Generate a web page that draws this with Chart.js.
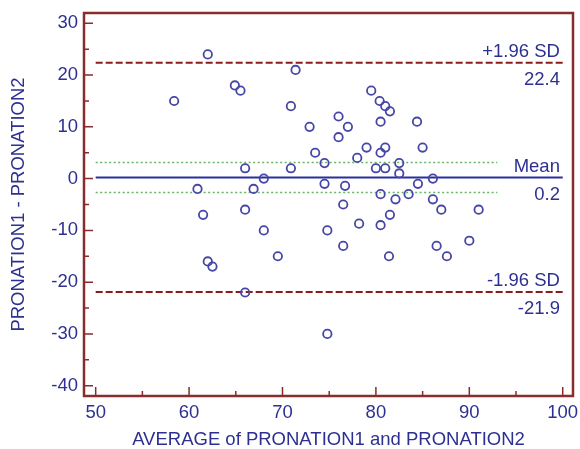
<!DOCTYPE html>
<html>
<head>
<meta charset="utf-8">
<script src="https://cdn.jsdelivr.net/npm/chart.js@4/dist/chart.umd.min.js"></script>
<style>
html, body { margin: 0; padding: 0; background: #fff; }
</style>
</head>
<body>
<canvas id="myChart" width="580" height="449"></canvas>
<script>
// Bland-Altman data
const averages = [58.4, 60.9, 61.5, 62, 62, 62.5, 64.9, 65.5, 66, 66, 66, 66.9, 68, 68, 69.5,
	70.9, 70.9, 71.4, 72.9, 73.5, 74.5, 74.5, 74.8, 74.8, 76, 76, 76.5, 76.5, 76.7, 77,
	78, 78.2, 79, 79.5, 80, 80.4, 80.5, 80.5, 80.5, 80.5, 81, 81, 81, 81.5, 81.5,
	81.4, 82.1, 82.5, 82.5, 83.5, 84.4, 84.5, 85, 86.1, 86.1, 86.5, 87, 87.6, 90, 91];
const differences = [15, -2, -7, 24, -16, -17, 18, 17, 2, -6, -22, -2, 0, -10, -15,
	14, 2, 21, 10, 5, 3, -1, -10, -30, 12, 8, -5, -13, -1.4, 10,
	4, -8.7, 6, 17, 2, 15, 11, 5, -3, -9, 14, 6, 2, 13, -7,
	-15, -4, 3, 1, -3, 11, -1, 6, 0, -4, -13, -6, -15, -12, -6];

const refNames = ['+1.96 SD', 'Mean', '-1.96 SD'];
const refValues = [22.4, 0.2, -21.9];
const ciValues = [3.1, -2.7];
const lineStart = 50, lineEnd = 100, ciEnd = 93;

const xTicks = [50, 60, 70, 80, 90, 100];
const xMinor = [55, 65, 75, 85, 95];
const yTicks = [-40, -30, -20, -10, 0, 10, 20, 30];
const yMinor = [-35, -25, -15, -5, 5, 15, 25];

const textColor = '#2d3090';
const frameColor = '#8a2c2c';
const fontFam = 'Arial, "Liberation Sans", sans-serif';
const fontSize = 18.5;

let pts = [];
for (let i = 0; i < averages.length; i++) {
	pts.push({x: averages[i], y: differences[i]});
}

function hline(v, x2) {
	return [{x: lineStart, y: v}, {x: x2, y: v}];
}

const frameAndTicks = {
	id: 'frameAndTicks',
	afterDatasetsDraw(chart) {
		const ctx = chart.ctx;
		const a = chart.chartArea;
		const x = chart.scales.x, y = chart.scales.y;
		ctx.save();
		ctx.strokeStyle = frameColor;
		ctx.lineWidth = 1.5;
		ctx.beginPath();
		xTicks.forEach(v => { let p = x.getPixelForValue(v); ctx.moveTo(p, a.bottom); ctx.lineTo(p, a.bottom - 9); });
		xMinor.forEach(v => { let p = x.getPixelForValue(v); ctx.moveTo(p, a.bottom); ctx.lineTo(p, a.bottom - 5); });
		yTicks.forEach(v => { let p = y.getPixelForValue(v); ctx.moveTo(a.left, p); ctx.lineTo(a.left + 9, p); });
		yMinor.forEach(v => { let p = y.getPixelForValue(v); ctx.moveTo(a.left, p); ctx.lineTo(a.left + 5, p); });
		ctx.stroke();
		ctx.lineWidth = 2.5;
		ctx.strokeRect(a.left, a.top, a.right - a.left, a.bottom - a.top);

		// labels of the reference lines
		ctx.fillStyle = textColor;
		ctx.font = fontSize + 'px ' + fontFam;
		ctx.textAlign = 'right';
		ctx.textBaseline = 'alphabetic';
		let lx = x.getPixelForValue(99.7);
		for (let i = 0; i < refValues.length; i++) {
			let py = y.getPixelForValue(refValues[i]);
			ctx.fillText(refNames[i], lx, py - 6);
			ctx.fillText(String(refValues[i]), lx, py + 22);
		}
		ctx.restore();
	}
};

let ctx = document.getElementById('myChart').getContext('2d');
let myChart = new Chart(ctx, {
	type: 'scatter',
	data: {
		datasets: [
			{
				data: pts,
				pointStyle: 'circle',
				pointRadius: 4.2,
				borderWidth: 1.8,
				borderColor: '#4646a6',
				backgroundColor: 'rgba(0,0,0,0)',
				order: 0
			},
			{
				data: hline(refValues[0], lineEnd),
				showLine: true, pointRadius: 0,
				borderColor: '#8b1c1c', borderWidth: 2, borderDash: [7, 3],
				order: 1
			},
			{
				data: hline(refValues[2], lineEnd),
				showLine: true, pointRadius: 0,
				borderColor: '#8b1c1c', borderWidth: 2, borderDash: [7, 3],
				order: 1
			},
			{
				data: hline(refValues[1], lineEnd),
				showLine: true, pointRadius: 0,
				borderColor: '#2a2fa0', borderWidth: 2,
				order: 1
			},
			{
				data: hline(ciValues[0], ciEnd),
				showLine: true, pointRadius: 0,
				borderColor: '#63b563', borderWidth: 1.5, borderDash: [2, 2.5],
				order: 1
			},
			{
				data: hline(ciValues[1], ciEnd),
				showLine: true, pointRadius: 0,
				borderColor: '#63b563', borderWidth: 1.5, borderDash: [2, 2.5],
				order: 1
			}
		]
	},
	options: {
		responsive: false,
		animation: false,
		layout: { padding: { top: 13, right: 7, left: 0, bottom: 0 } },
		plugins: {
			legend: { display: false },
			tooltip: { enabled: false }
		},
		scales: {
			x: {
				type: 'linear',
				min: 48.75,
				max: 101.1,
				afterBuildTicks: s => { s.ticks = xTicks.map(v => ({value: v})); },
				afterFit: s => { s.height = 53; s.paddingLeft = 0; s.paddingRight = 0; },
				grid: { display: false, drawTicks: false },
				border: { display: false },
				ticks: { color: textColor, padding: 6, font: { family: fontFam, size: fontSize } },
				title: {
					display: true,
					text: 'AVERAGE of PRONATION1 and PRONATION2',
					color: textColor,
					padding: { top: 0, bottom: 0 },
					font: { family: fontFam, size: fontSize, lineHeight: 1 }
				}
			},
			y: {
				type: 'linear',
				min: -42,
				max: 32,
				afterBuildTicks: s => { s.ticks = yTicks.map(v => ({value: v})); },
				afterFit: s => { s.width = 84; s.paddingTop = 0; s.paddingBottom = 0; },
				grid: { display: false, drawTicks: false },
				border: { display: false },
				ticks: { color: textColor, padding: 6, font: { family: fontFam, size: fontSize } },
				title: {
					display: true,
					text: 'PRONATION1 - PRONATION2',
					color: textColor,
					padding: { top: 10, bottom: 0 },
					font: { family: fontFam, size: fontSize, lineHeight: 1 }
				}
			}
		}
	},
	plugins: [frameAndTicks]
});
</script>
</body>
</html>
